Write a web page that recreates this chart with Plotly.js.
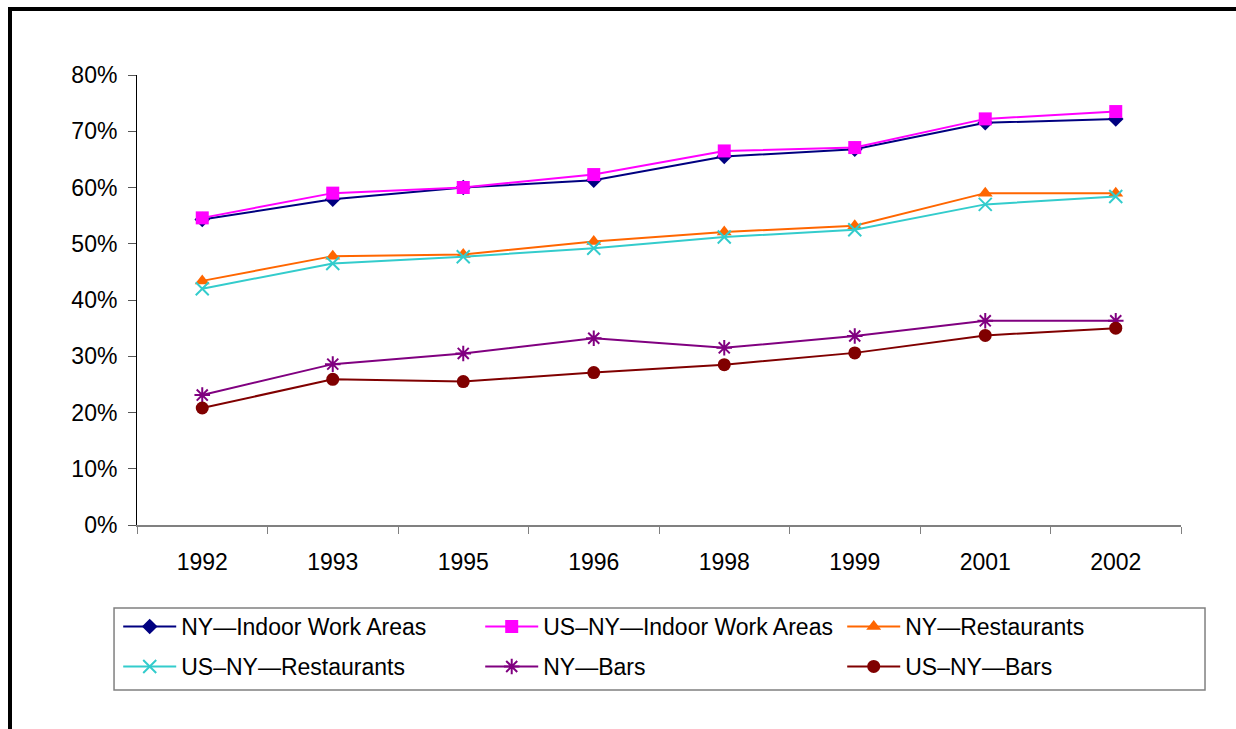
<!DOCTYPE html>
<html>
<head>
<meta charset="utf-8">
<script src="https://cdn.plot.ly/plotly-3.0.1.min.js"></script>
<style>
  html, body { margin: 0; padding: 0; background: #fff; }
  #chart { position: absolute; left: 0; top: 0; width: 1236px; height: 729px; }
  #frame { position: absolute; left: 8px; top: 7px; width: 1240px; height: 740px;
           border-top: 4px solid #000; border-left: 4px solid #000; pointer-events: none; }
</style>
</head>
<body>
<div id="chart"></div>
<div id="frame"></div>
<script>
const years = ['1992', '1993', '1995', '1996', '1998', '1999', '2001', '2002'];

const nyIndoor       = [54.3, 57.9, 60.0, 61.3, 65.5, 66.8, 71.5, 72.2];
const usnyIndoor     = [54.6, 59.0, 60.0, 62.3, 66.5, 67.1, 72.2, 73.5];
const nyRestaurants  = [43.4, 47.8, 48.1, 50.4, 52.1, 53.2, 59.0, 59.0];
const usnyRestaurants= [42.0, 46.5, 47.7, 49.2, 51.2, 52.5, 57.0, 58.4];
const nyBars         = [23.1, 28.6, 30.5, 33.2, 31.5, 33.6, 36.3, 36.3];
const usnyBars       = [20.8, 25.9, 25.5, 27.1, 28.5, 30.6, 33.7, 35.0];

const yTickVals = [0, 10, 20, 30, 40, 50, 60, 70, 80];
const yTickText = ['0%', '10%', '20%', '30%', '40%', '50%', '60%', '70%', '80%'];

function tr(name, y, color, symbol, size, open, legend) {
  const marker = { color: color, symbol: symbol, size: size };
  if (open) marker.line = { color: color, width: 2 };
  return {
    type: 'scatter', mode: 'lines+markers', name: name,
    x: years, y: y,
    line: { color: color, width: 2 },
    marker: marker,
    legend: legend
  };
}

const data = [
  tr('NY\u2014Indoor Work Areas', nyIndoor, '#000080', 'diamond', 12, false, 'legend'),
  tr('US\u2013NY\u2014Indoor Work Areas', usnyIndoor, '#FF00FF', 'square', 13, false, 'legend'),
  tr('NY\u2014Restaurants', nyRestaurants, '#FF6600', 'triangle-up', 13, false, 'legend'),
  tr('US\u2013NY\u2014Restaurants', usnyRestaurants, '#33CCCC', 'x-thin-open', 13, true, 'legend2'),
  tr('NY\u2014Bars', nyBars, '#800080', 'asterisk-open', 13, true, 'legend2'),
  tr('US\u2013NY\u2014Bars', usnyBars, '#800000', 'circle', 13, false, 'legend2')
];

const font = { family: 'Liberation Sans, Arial, sans-serif', size: 23, color: '#000' };

function legendRow(yPos) {
  return {
    orientation: 'h',
    x: -0.018, xanchor: 'left',
    y: yPos, yanchor: 'top',
    borderwidth: 0,
    bgcolor: 'rgba(0,0,0,0)',
    font: font,
    itemwidth: 53,
    entrywidth: 294,
    entrywidthmode: 'pixels',
    traceorder: 'normal'
  };
}

const layout = {
  width: 1236, height: 729,
  margin: { l: 137, r: 55, t: 75, b: 204 },
  paper_bgcolor: '#fff', plot_bgcolor: '#fff',
  font: font,
  showlegend: true,
  xaxis: {
    type: 'category',
    range: [-0.5, 7.5],
    showgrid: false, zeroline: false,
    showline: true, linecolor: '#808080', linewidth: 2,
    ticks: 'outside', tickson: 'boundaries', ticklen: 7, tickcolor: '#808080', tickwidth: 1,
    ticklabelstandoff: 15,
    tickfont: font
  },
  yaxis: {
    range: [0, 80],
    tickvals: yTickVals,
    ticktext: yTickText,
    showgrid: false, zeroline: false,
    showline: true, linecolor: '#000', linewidth: 1,
    ticks: 'outside', ticklen: 8, tickcolor: '#555', tickwidth: 1,
    ticklabelstandoff: 6,
    tickfont: font
  },
  legend: legendRow(-0.1778),
  legend2: legendRow(-0.2667),
  shapes: [{
    type: 'rect', xref: 'paper', yref: 'paper',
    x0: -0.0220, x1: 1.0230, y0: -0.3667, y1: -0.1844,
    line: { color: '#808080', width: 1.5 },
    fillcolor: 'rgba(0,0,0,0)', layer: 'below'
  }]
};

Plotly.newPlot('chart', data, layout, { displayModeBar: false, staticPlot: true });
</script>
</body>
</html>
